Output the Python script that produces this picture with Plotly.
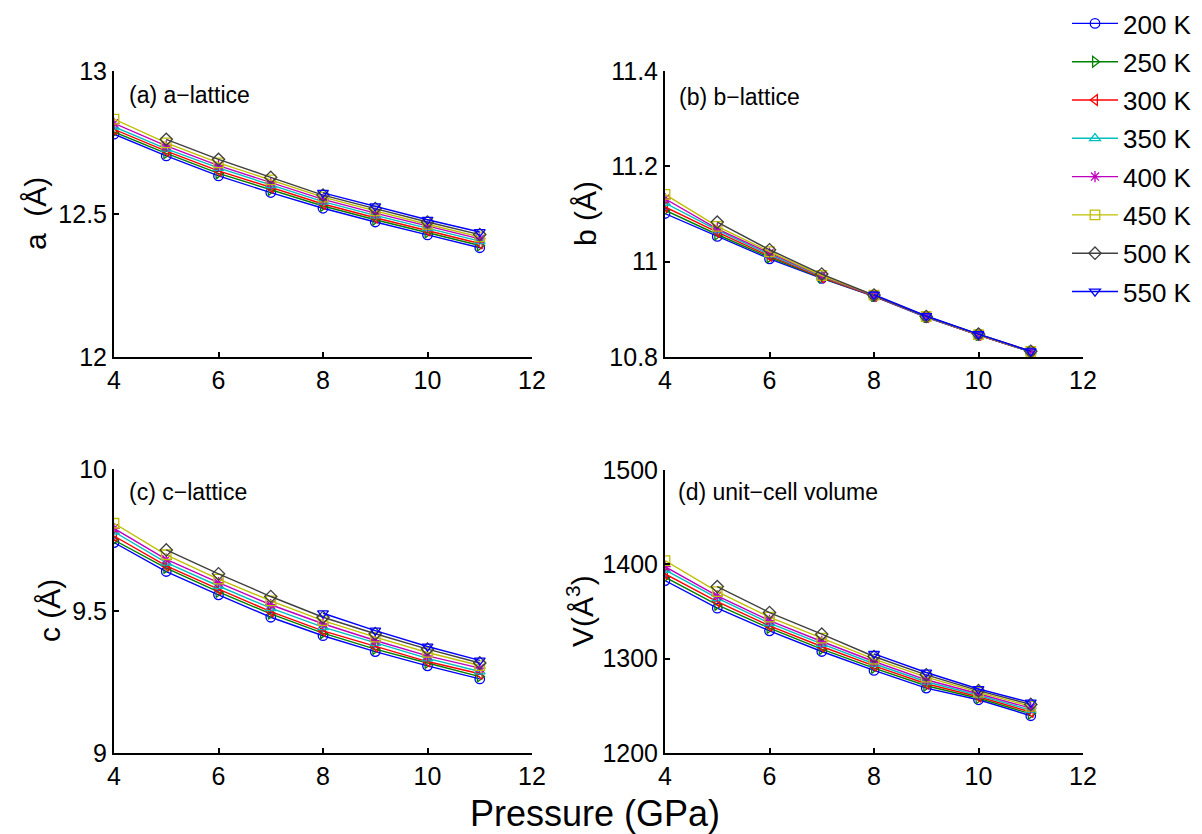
import plotly.graph_objects as go

pressure = [4, 5, 6, 7, 8, 9, 10, 11]
temps = ["200 K", "250 K", "300 K", "350 K", "400 K", "450 K", "500 K", "550 K"]

a_200 = [12.779, 12.703, 12.633, 12.575, 12.520, 12.472, 12.427, 12.382]
a_250 = [12.787, 12.712, 12.642, 12.584, 12.528, 12.480, 12.435, 12.390]
a_300 = [12.796, 12.720, 12.651, 12.593, 12.535, 12.487, 12.442, 12.397]
a_350 = [12.805, 12.728, 12.661, 12.601, 12.543, 12.495, 12.450, 12.405]
a_400 = [12.817, 12.738, 12.669, 12.609, 12.551, 12.503, 12.457, 12.413]
a_450 = [12.832, 12.749, 12.679, 12.619, 12.559, 12.511, 12.464, 12.420]
a_500 = [None, 12.761, 12.691, 12.628, 12.566, 12.519, 12.472, 12.428]
a_550 = [None, None, None, None, 12.574, 12.527, 12.480, 12.437]

b_200 = [11.101, 11.053, 11.006, 10.965, 10.927, 10.883, 10.846, 10.811]
b_250 = [11.108, 11.057, 11.009, 10.966, 10.928, 10.884, 10.846, 10.811]
b_300 = [11.115, 11.062, 11.012, 10.967, 10.928, 10.884, 10.846, 10.811]
b_350 = [11.123, 11.066, 11.015, 10.969, 10.929, 10.884, 10.847, 10.811]
b_400 = [11.132, 11.069, 11.018, 10.970, 10.929, 10.885, 10.847, 10.812]
b_450 = [11.141, 11.074, 11.021, 10.971, 10.930, 10.885, 10.847, 10.812]
b_500 = [None, 11.083, 11.025, 10.974, 10.930, 10.885, 10.848, 10.812]
b_550 = [None, None, None, None, 10.931, 10.886, 10.848, 10.812]

c_200 = [9.741, 9.639, 9.557, 9.478, 9.413, 9.357, 9.307, 9.261]
c_250 = [9.750, 9.651, 9.567, 9.490, 9.422, 9.366, 9.317, 9.269]
c_300 = [9.764, 9.659, 9.577, 9.498, 9.430, 9.375, 9.322, 9.279]
c_350 = [9.779, 9.670, 9.588, 9.510, 9.443, 9.387, 9.333, 9.287]
c_400 = [9.791, 9.682, 9.600, 9.522, 9.455, 9.396, 9.342, 9.299]
c_450 = [9.809, 9.698, 9.612, 9.536, 9.466, 9.408, 9.354, 9.308]
c_500 = [None, 9.715, 9.631, 9.551, 9.478, 9.420, 9.366, 9.317]
c_550 = [None, None, None, None, 9.492, 9.431, 9.375, 9.326]

v_200 = [1382.8, 1353.5, 1329.5, 1307.6, 1287.5, 1268.8, 1256.4, 1239.5]
v_250 = [1386.4, 1357.0, 1332.4, 1310.1, 1290.0, 1271.3, 1258.0, 1241.5]
v_300 = [1389.9, 1360.5, 1334.8, 1312.9, 1292.4, 1273.4, 1259.6, 1243.5]
v_350 = [1394.1, 1364.1, 1337.7, 1315.7, 1294.6, 1275.5, 1261.2, 1245.5]
v_400 = [1397.6, 1366.6, 1340.4, 1318.2, 1297.0, 1277.6, 1262.8, 1247.5]
v_450 = [1404.0, 1371.1, 1344.0, 1321.8, 1299.5, 1280.5, 1264.5, 1249.5]
v_500 = [None, 1376.4, 1348.9, 1326.0, 1302.3, 1282.9, 1266.1, 1251.5]
v_550 = [None, None, None, None, 1305.1, 1285.3, 1267.8, 1253.6]

panels = [
    [a_200, a_250, a_300, a_350, a_400, a_450, a_500, a_550],
    [b_200, b_250, b_300, b_350, b_400, b_450, b_500, b_550],
    [c_200, c_250, c_300, c_350, c_400, c_450, c_500, c_550],
    [v_200, v_250, v_300, v_350, v_400, v_450, v_500, v_550],
]

colors = ["#0000FF", "#008000", "#FF0000", "#00BFBF", "#BF00BF", "#BFBF00", "#404040", "#0000FF"]
symbols = ["circle-open", "triangle-right-open", "triangle-left-open", "triangle-up-open",
           "asterisk-open", "square-open", "diamond-open", "triangle-down-open"]

W, H = 1202, 834
FONT = "Liberation Sans, Arial, Helvetica, sans-serif"

def px_x(p):
    return p / W

def px_y(p):
    return 1 - p / H

# panel pixel boxes (left, right, top, bottom)
boxes = [(114, 532, 71, 357), (665, 1083, 71, 357), (114, 532, 469, 753), (665, 1083, 470, 753)]
yranges = [[12, 13], [10.8, 11.4], [9, 10], [1200, 1500]]
ytickvals = [[12, 12.5, 13], [10.8, 11, 11.2, 11.4], [9, 9.5, 10], [1200, 1300, 1400, 1500]]
yticktext = [["12", "12.5", "13"], ["10.8", "11", "11.2", "11.4"], ["9", "9.5", "10"],
             ["1200", "1300", "1400", "1500"]]
xtickvals = [4, 6, 8, 10, 12]

fig = go.Figure()
for i, series in enumerate(panels):
    sfx = "" if i == 0 else str(i + 1)
    for k, vals in enumerate(series):
        fig.add_trace(go.Scatter(
            x=pressure, y=vals, mode="lines+markers", name=temps[k],
            xaxis="x" + sfx, yaxis="y" + sfx,
            line=dict(color=colors[k], width=1.4),
            marker=dict(symbol=symbols[k], size=9.5, color=colors[k], line=dict(width=1.3, color=colors[k])),
            showlegend=(i == 0), legendgroup=temps[k], connectgaps=False,
        ))

axis_common = dict(showline=True, linecolor="black", linewidth=2, ticks="inside", ticklen=5,
                   tickwidth=2, tickcolor="black", showgrid=False, zeroline=False, mirror=False,
                   automargin=False, tickfont=dict(family=FONT, size=25, color="black"))
layout = dict(width=W, height=H, margin=dict(l=0, r=0, t=0, b=0, autoexpand=False), plot_bgcolor="white",
              paper_bgcolor="white", font=dict(family=FONT, color="black"))
for i, (l, r, t, b) in enumerate(boxes):
    sfx = "" if i == 0 else str(i + 1)
    layout["xaxis" + sfx] = dict(axis_common, domain=[px_x(l), px_x(r)], range=[4, 12],
                                 tickvals=xtickvals, anchor="y" + sfx)
    layout["yaxis" + sfx] = dict(axis_common, domain=[px_y(b), px_y(t)], range=yranges[i],
                                 tickvals=ytickvals[i], ticktext=yticktext[i], anchor="x" + sfx)

layout["legend"] = dict(x=px_x(1067), y=px_y(0), xanchor="left", yanchor="top",
                        font=dict(family=FONT, size=26, color="black"), bgcolor="rgba(0,0,0,0)",
                        traceorder="grouped", tracegroupgap=1.5, itemwidth=46)

annotations = []
panel_labels = ["(a) a\u2212lattice", "(b) b\u2212lattice", "(c) c\u2212lattice", "(d) unit\u2212cell volume"]
label_pos = [(127, 95), (677, 97), (127, 492), (676, 492)]
for txt, (x, y) in zip(panel_labels, label_pos):
    annotations.append(dict(text=txt, x=px_x(x), y=px_y(y), xref="paper", yref="paper",
                            xanchor="left", yanchor="middle", showarrow=False,
                            font=dict(family=FONT, size=23, color="black")))

ylabels = ["a  (\u00c5)", "b (\u00c5)", "c (\u00c5)", "V(\u00c5<sup>3</sup>)"]
ylabel_pos = [(36, 214), (586, 214), (49, 611), (580, 611)]
for txt, (x, y) in zip(ylabels, ylabel_pos):
    annotations.append(dict(text=txt, x=px_x(x), y=px_y(y), xref="paper", yref="paper",
                            xanchor="center", yanchor="middle", showarrow=False, textangle=-90,
                            font=dict(family=FONT, size=30, color="black")))

annotations.append(dict(text="Pressure (GPa)", x=px_x(595), y=px_y(813), xref="paper", yref="paper",
                        xanchor="center", yanchor="middle", showarrow=False,
                        font=dict(family=FONT, size=36, color="black")))
layout["annotations"] = annotations

fig.update_layout(**layout)
fig.write_html("out.html", config={"displayModeBar": False},
               post_script="document.body.style.margin='0';document.body.style.overflow='hidden';")
